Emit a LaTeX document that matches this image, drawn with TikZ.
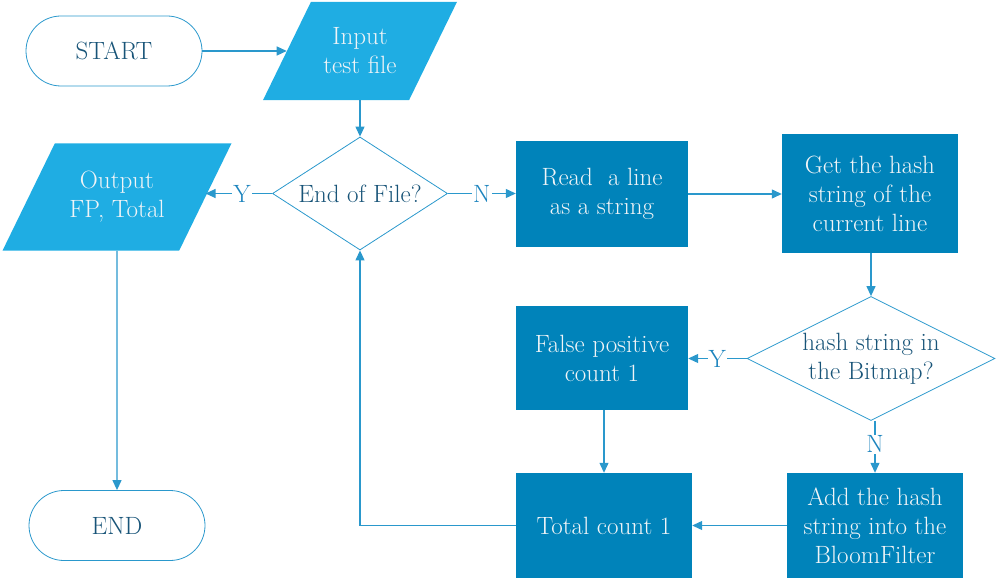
\documentclass[tikz,border=0pt]{standalone}
\usetikzlibrary{shapes.geometric,arrows.meta}
\definecolor{lineblue}{RGB}{42,152,204}
\definecolor{boxblue}{RGB}{0,131,186}
\definecolor{ioblue}{RGB}{31,173,227}
\definecolor{darktext}{RGB}{24,84,120}
\definecolor{boxtext}{RGB}{240,244,247}
\definecolor{labelblue}{RGB}{28,132,190}

\begin{document}
\begin{tikzpicture}[x=1pt, y=-1pt,
  font=\fontsize{25}{29}\selectfont,
  terminal/.style={draw=lineblue, line width=0.8pt, rounded corners=35pt,
    minimum width=176pt, minimum height=70pt, text=darktext},
  iobox/.style={trapezium, trapezium stretches body, trapezium left angle=64,
    trapezium right angle=116, fill=ioblue, text=boxtext, align=center},
  process/.style={rectangle, fill=boxblue, text=boxtext, align=center},
  decision/.style={diamond, draw=lineblue, line width=0.8pt, text=darktext,
    align=center},
  arr/.style={draw=lineblue, line width=1.2pt, -{Triangle[length=10pt,width=9pt]}},
  yn/.style={fill=white, text=labelblue, inner sep=1pt}]
\useasboundingbox (0,0) rectangle (1002,580);

\node[terminal] (start) at (114,51) {START};
\node[iobox, minimum width=194pt, inner ysep=26pt] (input) at (360,51)
  {Input\\test file};
\node[decision, minimum width=175pt, minimum height=113pt,
  inner xsep=-20pt, inner ysep=-6pt] (eof) at (360,193.5) {End of File?};
\node[iobox, minimum width=229pt, inner ysep=28pt] (output) at (117,197)
  {Output\\FP, Total};
\node[terminal] (stop) at (117,525.5) {END};

\node[process, minimum width=172pt, minimum height=106pt] (read) at (602,194)
  {Read\ \ a line\\as a string};
\node[process, minimum width=176pt, minimum height=119pt] (hash) at (870,193.5)
  {Get the hash\\string of the\\current line};
\node[decision, minimum width=248pt, minimum height=124pt,
  inner xsep=-30pt, inner ysep=-12pt] (bitmap) at (871,358.5)
  {hash string in\\the Bitmap?};
\node[process, minimum width=172pt, minimum height=104pt] (falsepos) at (602,358)
  {False positive\\count 1};
\node[process, minimum width=176pt, minimum height=105pt] (total) at (604,525.5)
  {Total count 1};
\node[process, minimum width=176pt, minimum height=105pt] (add) at (875,525.5)
  {Add the hash\\string into the\\BloomFilter};

% main path
\draw[arr] (start.east) -- (start.east -| input.west);
\draw[arr] (input.south -| eof.north) -- (eof.north);
\draw[arr] (eof.west) -- node[yn, pos=0.45] {Y} (eof.west -| output.east);
\draw[arr] (output.south) -- (stop.north);
\draw[arr] (eof.east) -- node[yn, pos=0.5] {N} (eof.east -| read.west);
\draw[arr] (read.east) -- (read.east -| hash.west);
\draw[arr] (hash.south -| bitmap.north) -- (bitmap.north);
\draw[arr] (bitmap.west) -- node[yn, pos=0.5] {Y} (bitmap.west -| falsepos.east);
\draw[arr] (bitmap.south -| add.north) -- node[yn, pos=0.45] {N} (add.north);
\draw[arr] (total.north |- falsepos.south) -- (total.north);
\draw[arr] (add.west) -- (add.west -| total.east);
\draw[arr] (total.west) -| (eof.south);
\end{tikzpicture}
\end{document}
